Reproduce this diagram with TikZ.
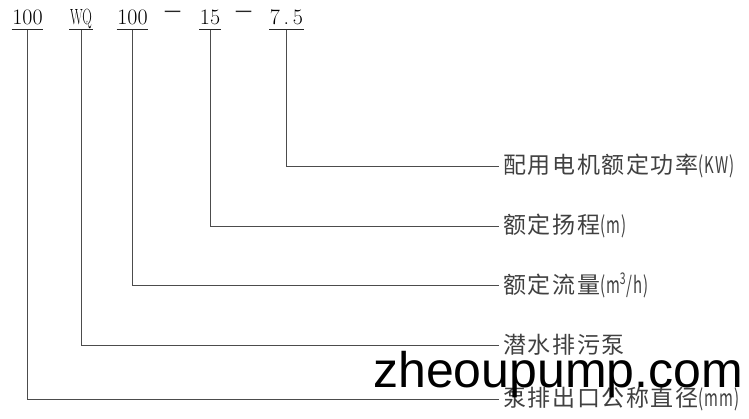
\documentclass[tikz,border=0pt]{standalone}
\usepackage{fontspec}
\usepackage{tikz}
\newfontfamily\cjkfont[LetterSpace=7]{Noto Sans CJK SC}
\newfontfamily\signfont{Noto Sans CJK SC}
\newfontfamily\markfont{Liberation Sans}
\def\narrow#1{\scalebox{0.65}[1]{#1}}
\tikzset{
	code/.style={font=\rmfamily\fontsize{22}{24}\selectfont, anchor=base, inner xsep=0.5pt, inner ysep=5pt, text depth=0pt},
	sepsign/.style={font=\signfont\fontsize{17}{17}\selectfont, inner sep=0pt, text=black!85},
	lbl/.style={font=\cjkfont\fontsize{23}{28}\selectfont, anchor=west, inner xsep=4pt, inner ysep=0pt, text=black!75},
	uline/.style={line width=1pt, color=black!85},
	link/.style={line width=1pt, color=black!70}
}
\begin{document}
\begin{tikzpicture}[x=1pt, y=-1pt]
		%%%%% START %%%%%
		\useasboundingbox (0, 0) rectangle (749, 418);
		
		\node[code] (t1) at (27.5, 24.5) {100};
		\node[code] (t2) at (81, 24.5) {\scalebox{0.6}[1]{WQ}};
		\node[code] (t3) at (132.5, 24.5) {100};
		\node[sepsign] (d1) at (172.5, 15) {一};
		\node[code] (t4) at (210, 24.5) {15};
		\node[sepsign] (d2) at (243.5, 15) {一};
		\node[code] (t5) at (286.5, 24.5) {7\,.\,5};
		
		\draw[uline] (t1.south west) -- (t1.south east);
		\draw[uline] (t2.south west) -- (t2.south east);
		\draw[uline] (t3.south west) -- (t3.south east);
		\draw[uline] (t4.south west) -- (t4.south east);
		\draw[uline] (t5.south west) -- (t5.south east);
		
		\node[lbl] (l5) at (499, 166) {配用电机额定功率\narrow{(KW)}};
		\node[lbl] (l4) at (499, 226) {额定扬程\narrow{(m)}};
		\node[lbl] (l3) at (499, 285) {额定流量\narrow{(m\textsuperscript{3}/h)}};
		\node[lbl] (l2) at (499, 345) {潜水排污泵};
		\node[lbl] (l1) at (499, 399) {泵排出口公称直径\narrow{(mm)}};
		
		\draw[link] (t5.south) |- (l5.west);
		\draw[link] (t4.south) |- (l4.west);
		\draw[link] (t3.south) |- (l3.west);
		\draw[link] (t2.south) |- (l2.west);
		\draw[link] (t1.south) |- (l1.west);
		
		\node[font=\markfont\fontsize{50}{50}\selectfont, anchor=base west, inner sep=0pt] (mark) at (373, 387) {zheoupump.com};
		
		%%%%% END %%%%%
	\end{tikzpicture}
\end{document}
